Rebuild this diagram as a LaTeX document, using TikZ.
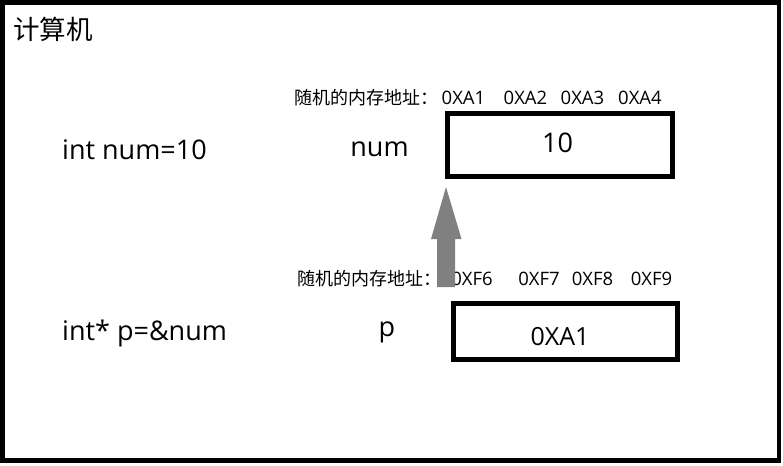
\documentclass[tikz,border=0pt]{standalone}
\usepackage{fontspec}
\setmainfont{Open Sans}
\newfontfamily\cjk{Noto Sans CJK SC}
\definecolor{arrowgray}{RGB}{128,128,128}
\tikzset{
  frame/.style={draw=black, line width=4.5pt},
  membox/.style={draw=black, line width=5pt},
  big/.style={font=\fontsize{27}{30}\selectfont, inner sep=0pt},
  addr/.style={font=\fontsize{18.5}{20}\selectfont, inner sep=0pt, anchor=base},
  lab/.style={font=\cjk\fontsize{18}{20}\selectfont, inner sep=0pt, anchor=base west},
}
\begin{document}
\begin{tikzpicture}[x=1pt,y=-1pt]
\useasboundingbox (0,0) rectangle (783,465);
\fill[white] (0,0) rectangle (783,465);
\draw[frame] (2.5,2.5) rectangle (779,460.5);
\node[font=\cjk\fontsize{26.5}{30}\selectfont, inner sep=0pt, anchor=base west] (title) at (13,40) {计算机};

% variable declarations
\node[big, anchor=base west] (decl1) at (62,160) {int num=10};
\node[big, anchor=base west] (decl2) at (62,340) {int* p=\&num};

% names
\node[big, anchor=base] (num) at (379.5,157) {num};
\node[big, anchor=base] (pname) at (387,336) {p};

% memory boxes
\draw[membox] (447.5,114) rectangle (672.5,176);
\node[font=\fontsize{27}{30}\selectfont, inner sep=0pt, anchor=base] (val10) at (557.5,153) {10};
\draw[membox] (453.5,303.5) rectangle (677.5,359);
\node[font=\fontsize{25}{28}\selectfont, inner sep=0pt, anchor=base] (valp) at (560,345) {0XA1};

% address rows
\node[lab] (lab1) at (294,105) {随机的内存地址：};
\node[addr] (a1) at (463.5,105) {0XA1};
\node[addr] (a2) at (525.5,105) {0XA2};
\node[addr] (a3) at (582.5,105) {0XA3};
\node[addr] (a4) at (640,105) {0XA4};

\node[lab] (lab2) at (297,285) {随机的内存地址：};
\node[addr] (f6) at (472,285) {0XF6};
\node[addr] (f7) at (539,285) {0XF7};
\node[addr] (f8) at (592.5,285) {0XF8};
\node[addr] (f9) at (651.5,285) {0XF9};

% block arrow from p's memory up to num's memory
\coordinate (tip) at (446,187);
\coordinate (tail) at (446,287);
\fill[arrowgray, line join=round] (tail) ++(-9,0) -- ++(0,-48) -- ++(-6,0) -- (tip) -- (461.5,239) -- (455,239) -- (455,287) -- cycle;
\end{tikzpicture}
\end{document}
